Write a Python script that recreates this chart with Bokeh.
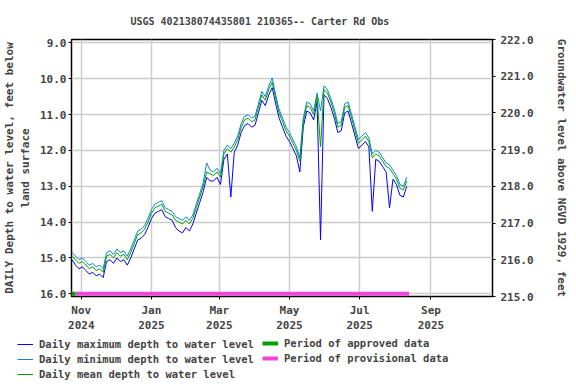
import pandas as pd
from bokeh.plotting import figure
from bokeh.layouts import column
from bokeh.models import (Range1d, LinearAxis, FixedTicker, Legend, LegendItem,
                          PrintfTickFormatter)
from bokeh.embed import file_html
from bokeh.resources import INLINE

# ---------------- data ----------------
dates = pd.date_range("2024-10-24", periods=98, freq="3D")

mean_depth = [14.95, 15.05, 15.15, 15.10, 15.20, 15.30, 15.25, 15.35, 15.30, 15.40,
              14.95, 14.90, 15.00, 14.85, 14.95, 14.90, 15.05, 14.85, 14.60, 14.35,
              14.30, 14.20, 14.00, 13.75, 13.60, 13.55, 13.50, 13.70, 13.75, 13.80,
              13.95, 14.00, 14.05, 13.95, 14.05, 13.90, 13.60, 13.30, 13.00, 12.60,
              12.65, 12.70, 12.60, 12.75, 12.10, 11.95, 12.05, 11.90, 11.70, 11.35,
              11.15, 11.10, 11.20, 11.15, 10.80, 10.45, 10.60, 10.30, 10.10, 10.55,
              10.95, 11.20, 11.45, 11.60, 11.80, 12.00, 12.30, 11.20, 10.75, 10.80,
              11.00, 10.50, 11.90, 10.30, 10.40, 10.65, 10.95, 11.35, 11.30, 10.80,
              10.75, 11.10, 11.45, 11.80, 11.70, 11.60, 11.75, 12.20, 12.10, 12.15,
              12.30, 12.45, 12.50, 12.65, 12.80, 13.05, 13.10, 12.85]

max_depth = [15.05, 15.20, 15.30, 15.25, 15.35, 15.45, 15.40, 15.50, 15.45, 15.55,
             15.10, 15.05, 15.15, 15.00, 15.10, 15.05, 15.20, 15.00, 14.75, 14.50,
             14.45, 14.35, 14.15, 13.90, 13.75, 13.70, 13.65, 13.85, 13.90, 13.95,
             14.15, 14.25, 14.30, 14.15, 14.25, 14.05, 13.75, 13.45, 13.15, 12.75,
             12.85, 12.85, 12.75, 12.95, 12.25, 12.10, 13.30, 12.05, 11.85, 11.50,
             11.30, 11.25, 11.35, 11.30, 10.95, 10.60, 10.75, 10.45, 10.25, 10.70,
             11.10, 11.35, 11.60, 11.75, 11.95, 12.15, 12.60, 11.35, 10.90, 10.95,
             11.15, 10.65, 14.50, 10.45, 10.55, 10.80, 11.10, 11.50, 11.45, 10.95,
             10.90, 11.25, 11.60, 11.95, 11.85, 11.75, 11.90, 13.70, 12.25, 12.30,
             12.45, 12.60, 13.60, 12.80, 12.95, 13.25, 13.30, 13.00]

min_depth = [14.85, 14.95, 15.05, 15.00, 15.10, 15.20, 15.15, 15.25, 15.20, 15.30,
             14.85, 14.80, 14.90, 14.75, 14.85, 14.80, 14.95, 14.75, 14.50, 14.25,
             14.20, 14.10, 13.90, 13.65, 13.50, 13.45, 13.40, 13.60, 13.65, 13.70,
             13.85, 13.90, 13.95, 13.85, 13.95, 13.80, 13.50, 13.20, 12.90, 12.35,
             12.55, 12.60, 12.50, 12.65, 12.00, 11.85, 11.95, 11.80, 11.60, 11.25,
             11.05, 11.00, 11.10, 11.05, 10.70, 10.35, 10.50, 10.20, 9.98, 10.45,
             10.85, 11.10, 11.35, 11.50, 11.70, 11.90, 12.20, 11.10, 10.65, 10.70,
             10.90, 10.40, 10.90, 10.20, 10.30, 10.55, 10.85, 11.25, 11.20, 10.70,
             10.65, 11.00, 11.35, 11.70, 11.60, 11.50, 11.65, 12.10, 12.00, 12.05,
             12.20, 12.35, 12.40, 12.55, 12.70, 12.95, 13.00, 12.75]

approved_start = ["2024-10-23"]
approved_end = ["2024-10-27"]
provisional_start = ["2024-10-27"]
provisional_end = ["2025-08-13"]
period_depth = 16.0

xtick_dates = ["2024-11-01", "2025-01-01", "2025-03-01", "2025-05-01", "2025-07-01", "2025-09-01"]
xtick_labels = ["Nov\n2024", "Jan\n2025", "Mar\n2025", "May\n2025", "Jul\n2025", "Sep\n2025"]
depth_ticks = [9, 10, 11, 12, 13, 14, 15, 16]
elev_ticks = [215, 216, 217, 218, 219, 220, 221, 222]

title_text = "USGS 402138074435801 210365-- Carter Rd Obs"
left_label = "DAILY Depth to water level, feet below\nland surface"
right_label = "Groundwater level above NGVD 1929, feet"

series_labels = ["Daily maximum depth to water level",
                 "Daily minimum depth to water level",
                 "Daily mean depth to water level"]
period_labels = ["Period of approved data", "Period of provisional data"]

C_MAX, C_MIN, C_MEAN = "#0000ff", "#0a88d0", "#00a000"
C_APPR, C_PROV = "#00a000", "#f046d8"

# ---------------- main figure ----------------
FONT = "DejaVu Sans Mono"
ts = lambda s: pd.Timestamp(s)

p = figure(width=576, height=336, x_axis_type="datetime",
           x_range=Range1d(ts("2024-10-23 12:00"), ts("2025-10-24 12:00")),
           y_range=Range1d(16.075, 8.905),
           output_backend="svg", toolbar_location=None,
           min_border_left=71, min_border_right=84, min_border_top=39, min_border_bottom=40)

p.title.text = title_text
p.title.text_font = FONT
p.title.text_font_size = "10px"
p.title.text_font_style = "bold"
p.title.align = "left"
p.title.offset = 59
p.title.standoff = 26

p.outline_line_color = "black"
p.outline_line_width = 1.5
p.background_fill_color = "white"
p.border_fill_color = "white"

ms = [ts(d).value // 10**6 for d in xtick_dates]
xt = FixedTicker(ticks=ms)
p.xaxis.ticker = xt
p.xaxis.major_label_overrides = {m: lab for m, lab in zip(ms, xtick_labels)}
p.xgrid.ticker = xt

yt = FixedTicker(ticks=depth_ticks)
p.yaxis.ticker = yt
p.yaxis.formatter = PrintfTickFormatter(format="%.1f")
p.yaxis.axis_label = left_label
p.ygrid.ticker = yt

p.extra_y_ranges = {"elev": Range1d(215.0, 222.0)}
rax = LinearAxis(y_range_name="elev", ticker=FixedTicker(ticks=elev_ticks),
                 formatter=PrintfTickFormatter(format="%.1f"), axis_label=right_label)
p.add_layout(rax, "right")

for ax in [p.xaxis[0], p.yaxis[0], rax]:
    ax.axis_line_color = None
    ax.major_tick_in = 0
    ax.major_tick_out = 3
    ax.minor_tick_line_color = None
    ax.major_label_text_font = FONT
    ax.major_label_text_font_size = "11px"
    ax.major_label_text_font_style = "bold"
    ax.axis_label_text_font = FONT
    ax.axis_label_text_font_size = "11px"
    ax.axis_label_text_font_style = "bold"
p.xaxis.major_label_standoff = 4
p.yaxis.major_label_standoff = 2
p.yaxis.axis_label_standoff = 5
rax.major_label_standoff = 5
rax.axis_label_standoff = 18

for g in [p.xgrid[0], p.ygrid[0]]:
    g.grid_line_color = "#cccccc"
    g.grid_line_width = 1.5

p.line(dates, max_depth, line_color=C_MAX, line_width=1)
p.line(dates, min_depth, line_color=C_MIN, line_width=1)
p.line(dates, mean_depth, line_color=C_MEAN, line_width=1)

p.segment(x0=[ts(d) for d in approved_start], x1=[ts(d) for d in approved_end],
          y0=[period_depth], y1=[period_depth], line_color=C_APPR, line_width=4)
p.segment(x0=[ts(d) for d in provisional_start], x1=[ts(d) for d in provisional_end],
          y0=[period_depth], y1=[period_depth], line_color=C_PROV, line_width=4)

# ---------------- legend strip ----------------
lg = figure(width=576, height=48, output_backend="svg", toolbar_location=None,
            x_axis_location=None, y_axis_location=None,
            x_range=Range1d(0, 1), y_range=Range1d(0, 1),
            min_border_left=0, min_border_right=0, min_border_top=0, min_border_bottom=0)
lg.frame_align = False
lg.grid.visible = False
lg.outline_line_color = None
lg.background_fill_color = "white"
lg.border_fill_color = "white"

nan = float("nan")
l_max = lg.line(x=[nan], y=[nan], line_color=C_MAX, line_width=1)
l_min = lg.line(x=[nan], y=[nan], line_color=C_MIN, line_width=1)
l_mean = lg.line(x=[nan], y=[nan], line_color=C_MEAN, line_width=1)
l_appr = lg.line(x=[nan], y=[nan], line_color=C_APPR, line_width=4)
l_prov = lg.line(x=[nan], y=[nan], line_color=C_PROV, line_width=4)

def mk_legend(items, loc):
    return Legend(items=items, location=loc, orientation="vertical",
                  background_fill_alpha=0, border_line_color=None,
                  padding=0, margin=0, spacing=3,
                  glyph_width=16, glyph_height=10, label_height=10, label_standoff=6,
                  label_text_font=FONT, label_text_font_size="10.5px",
                  label_text_font_style="bold")

lg.add_layout(mk_legend([LegendItem(label=series_labels[0], renderers=[l_max]),
                         LegendItem(label=series_labels[1], renderers=[l_min]),
                         LegendItem(label=series_labels[2], renderers=[l_mean])], (17, 4)))
lg.add_layout(mk_legend([LegendItem(label=period_labels[0], renderers=[l_appr]),
                         LegendItem(label=period_labels[1], renderers=[l_prov])], (262, 20)))

layout = column(p, lg, spacing=0)
open("out.html", "w").write(file_html(layout, INLINE))
